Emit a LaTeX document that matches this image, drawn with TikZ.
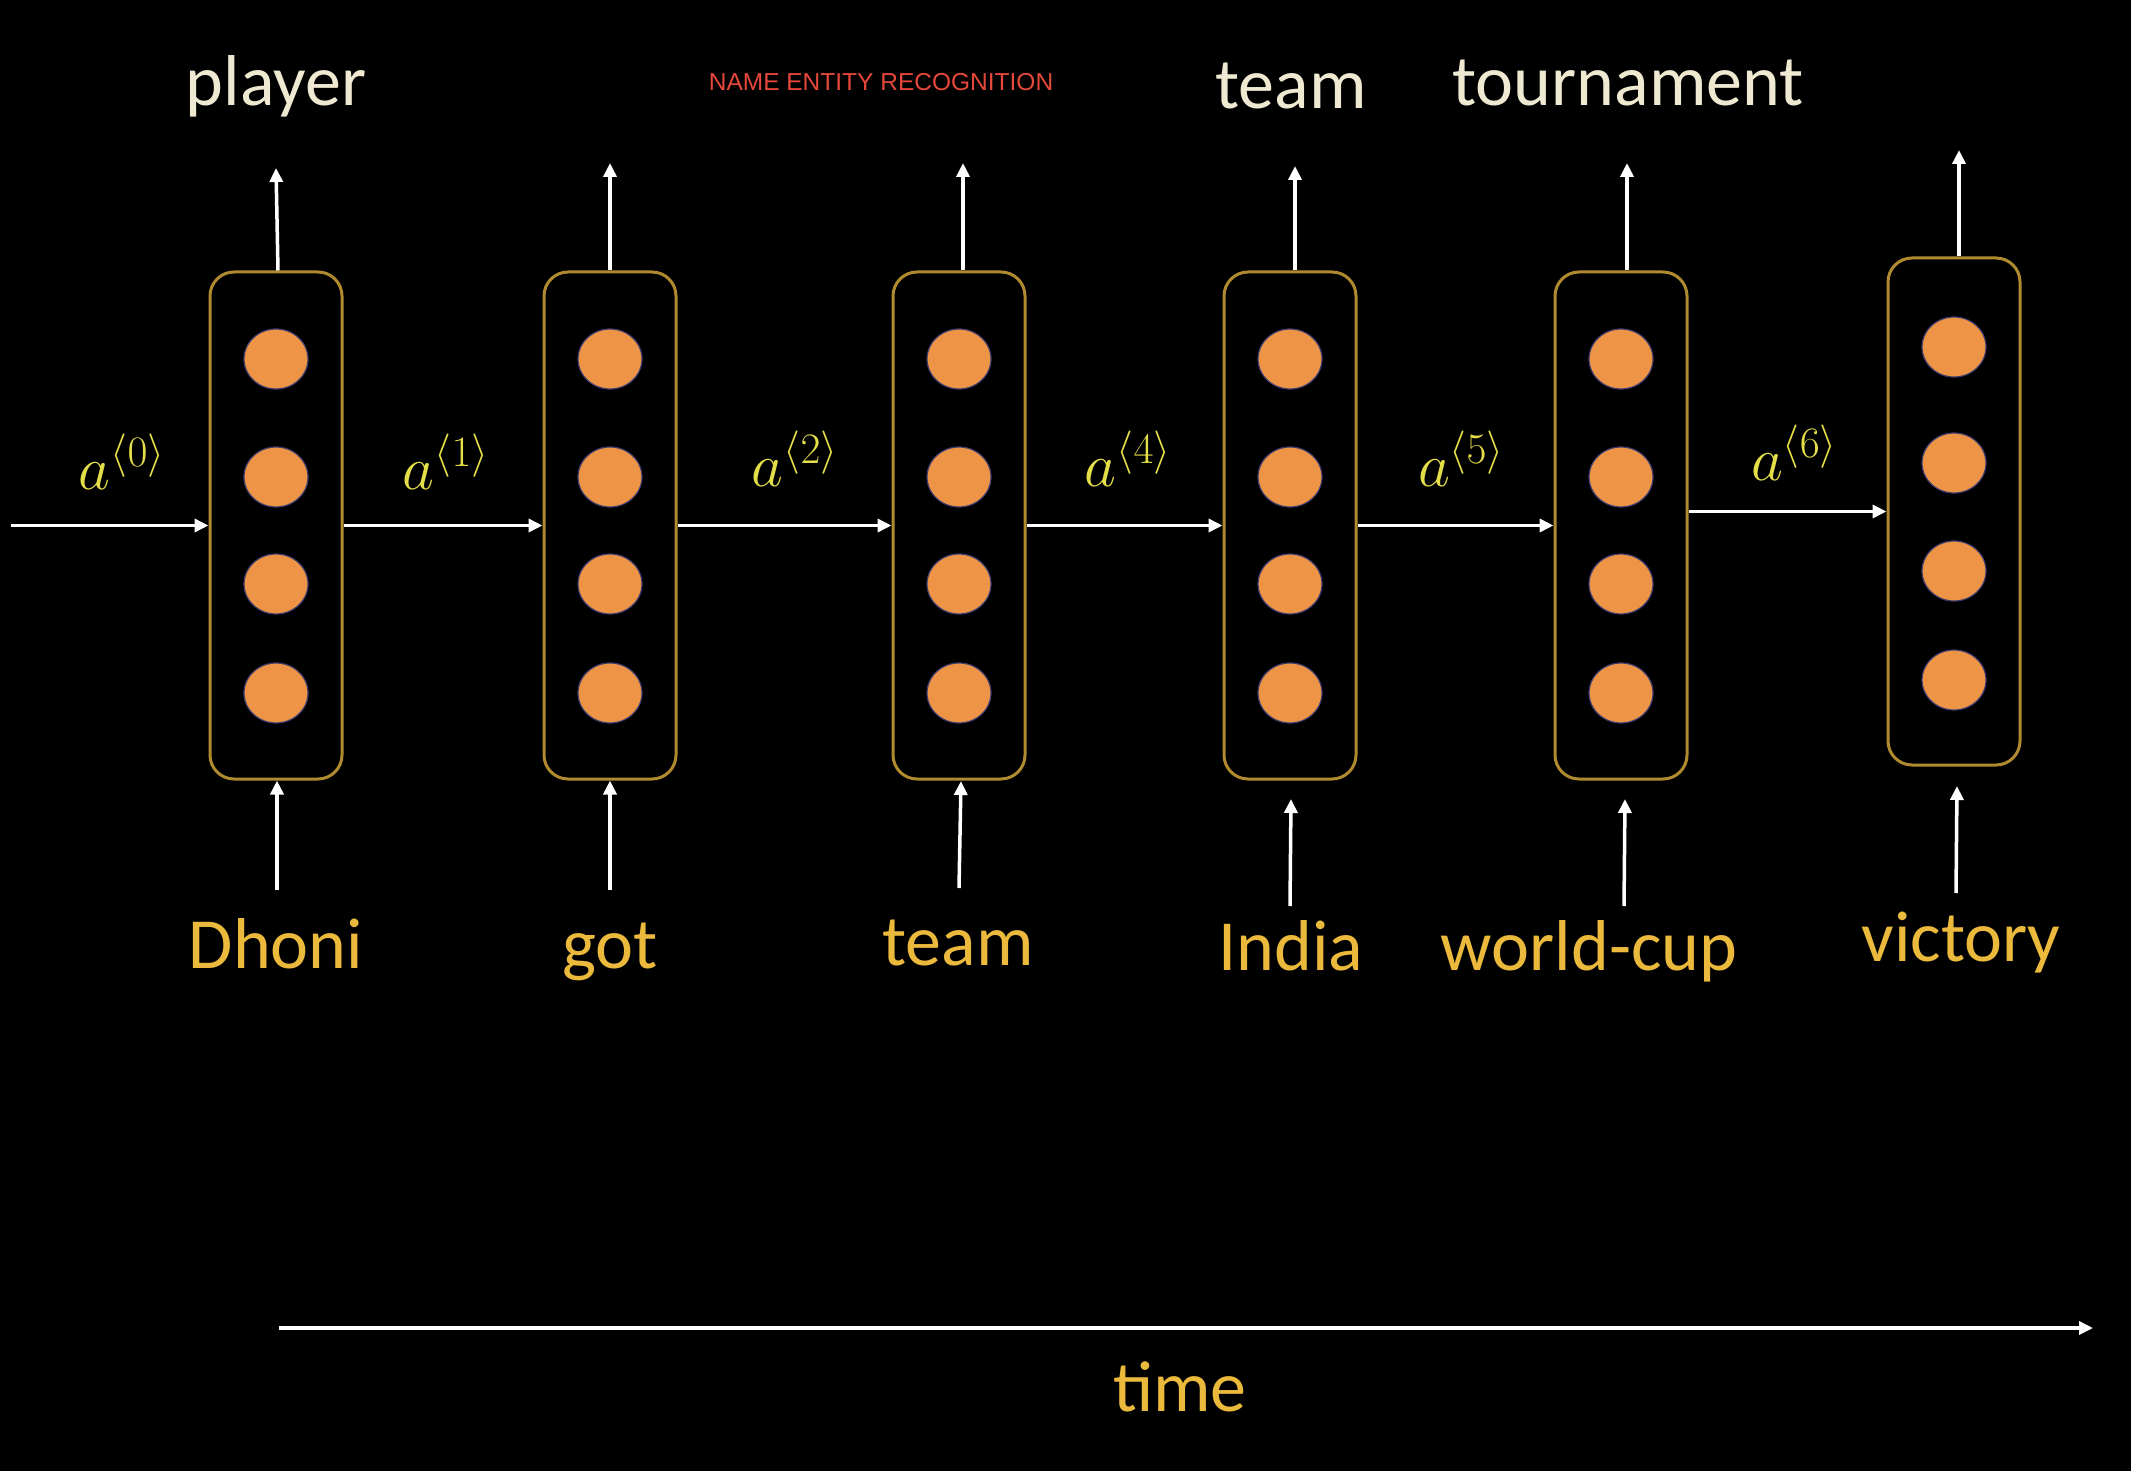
\RequirePackage{fix-cm}
\documentclass[tikz,border=0pt]{standalone}
\usepackage{fontspec}
\setmainfont{Carlito}
\newfontfamily\titlefont{Liberation Sans}
\usetikzlibrary{arrows.meta,shapes.geometric}
\definecolor{boxgold}{HTML}{B08A2E}
\definecolor{dotorange}{HTML}{EE9447}
\definecolor{dotedge}{HTML}{3C3C6E}
\definecolor{ayellow}{HTML}{E4DE48}
\definecolor{wordgold}{HTML}{EBB93C}
\definecolor{tagcream}{HTML}{EFE9D2}
\definecolor{titlered}{HTML}{E5483A}
\tikzset{
  cellbox/.style={draw=boxgold, line width=3pt, rounded corners=24pt, minimum width=132pt, minimum height=507pt, inner sep=0pt},
  unit/.style={ellipse, fill=dotorange, draw=dotedge, line width=1.2pt, minimum width=64pt, minimum height=60pt, inner sep=0pt},
  arr/.style={draw=white, line width=3.5pt, -{Triangle[length=14pt,width=13pt]}},
  tagtxt/.style={text=tagcream, font=\fontsize{72}{80}\selectfont, anchor=base, inner sep=0pt},
  wordtxt/.style={text=wordgold, font=\fontsize{72}{80}\selectfont, anchor=base, inner sep=0pt},
  atxt/.style={text=ayellow, font=\fontsize{62}{70}\selectfont, anchor=base, inner sep=0pt},
}
\begin{document}
\begin{tikzpicture}[x=1pt,y=-1pt]
\fill[black] (0,0) rectangle (2131,1471);
\useasboundingbox (0,0) rectangle (2131,1471);

% title
\node[text=titlered, font=\titlefont\fontsize{24.5}{28}\selectfont, anchor=base, inner sep=0pt] (title) at (881,91) {NAME ENTITY RECOGNITION};

% cells
\node[cellbox] (c1) at (276,525.5) {};
\node[cellbox] (c2) at (610,525.5) {};
\node[cellbox] (c3) at (959,525.5) {};
\node[cellbox] (c4) at (1290,525.5) {};
\node[cellbox] (c5) at (1621,525.5) {};
\node[cellbox] (c6) at (1954,511.5) {};

% units
\foreach \i/\x in {1/276,2/610,3/959,4/1290,5/1621}{
  \node[unit] (u\i a) at (\x,359) {};
  \node[unit] (u\i b) at (\x,477) {};
  \node[unit] (u\i c) at (\x,584) {};
  \node[unit] (u\i d) at (\x,693) {};
}
\node[unit] (u6a) at (1954,347) {};
\node[unit] (u6b) at (1954,463) {};
\node[unit] (u6c) at (1954,571) {};
\node[unit] (u6d) at (1954,680) {};

% recurrent arrows
\coordinate (start) at (11,525.5);
\draw[arr] (start) -- (c1.west);
\draw[arr] (c1.east) -- (c2.west);
\draw[arr] (c2.east) -- (c3.west);
\draw[arr] (c3.east) -- (c4.west);
\draw[arr] (c4.east) -- (c5.west);
\draw[arr] (c5.east |- c6.west) -- (c6.west);

% activation labels
\node[atxt] (a0) at (122,489) {$a^{\langle 0\rangle}$};
\node[atxt] (a1) at (446,489) {$a^{\langle 1\rangle}$};
\node[atxt] (a2) at (795,486) {$a^{\langle 2\rangle}$};
\node[atxt] (a4) at (1128,486) {$a^{\langle 4\rangle}$};
\node[atxt] (a5) at (1461,486) {$a^{\langle 5\rangle}$};
\node[atxt] (a6) at (1794,480) {$a^{\langle 6\rangle}$};

% output arrows
\coordinate (o1) at (276,168);
\coordinate (o2) at (610,163);
\coordinate (o3) at (963,163);
\coordinate (o4) at (1295,166);
\coordinate (o5) at (1627,163);
\coordinate (o6) at (1959,150);
\draw[arr] ([xshift=2pt]c1.north) -- (o1);
\draw[arr] (c2.north) -- (o2);
\draw[arr] ([xshift=4pt]c3.north) -- (o3);
\draw[arr] ([xshift=5pt]c4.north) -- (o4);
\draw[arr] ([xshift=6pt]c5.north) -- (o5);
\draw[arr] ([xshift=5pt]c6.north) -- (o6);

% output tags
\node[tagtxt] (t1) at (276,106) {player};
\node[tagtxt] (t4) at (1291,109) {team};
\node[tagtxt] (t5) at (1628,106) {tournament};

% input arrows
\coordinate (i1) at (277,890);
\coordinate (i2) at (610,890);
\coordinate (i3) at (959,888);
\coordinate (i4) at (1290,906);
\coordinate (i5) at (1624,906);
\coordinate (i6) at (1956,893);
\draw[arr] (i1) -- (i1 |- c1.south);
\draw[arr] (i2) -- (i2 |- c2.south);
\draw[arr] (i3) -- (961,781);
\draw[arr] (i4) -- (1291,799);
\draw[arr] (i5) -- (1625,799);
\draw[arr] (i6) -- (1957,786);

% input words
\node[wordtxt] (w1) at (276,968) {Dhoni};
\node[wordtxt] (w2) at (610,968) {got};
\node[wordtxt] (w3) at (958,965) {team};
\node[wordtxt] (w4) at (1291,970) {India};
\node[wordtxt] (w5) at (1589,970) {world-cup};
\node[wordtxt] (w6) at (1961,961) {victory};

% time axis
\coordinate (ts) at (279,1328);
\coordinate (te) at (2093,1328);
\draw[arr] (ts) -- (te);
\node[wordtxt] (time) at (1180,1411) {time};
\end{tikzpicture}
\end{document}
